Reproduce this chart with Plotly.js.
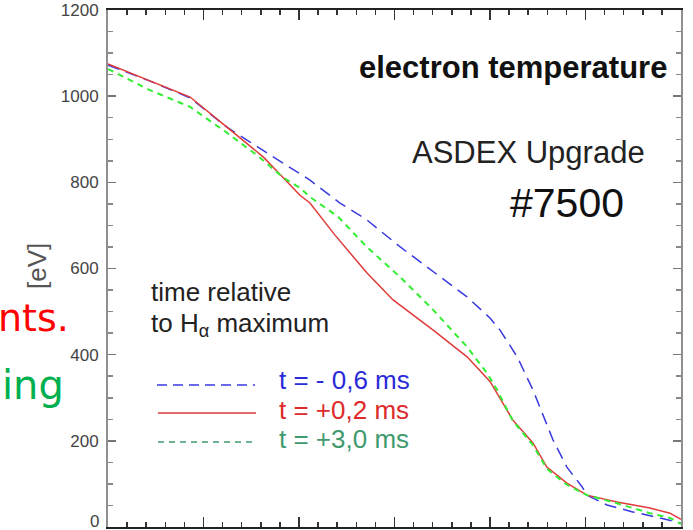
<!DOCTYPE html>
<html>
<head>
<meta charset="utf-8">
<script src="https://cdn.plot.ly/plotly-3.0.1.min.js"></script>
<style>html,body{margin:0;padding:0;background:#fff;}#chart{width:693px;height:530px;}</style>
</head>
<body>
<div id="chart"></div>
<script>
// normalized radius (0 .. 1.2, separatrix at 1.0) and electron temperature [eV]
var xBlue  = [0, 0.088, 0.172, 0.249, 0.291, 0.366, 0.423, 0.486, 0.542, 0.612, 0.681, 0.752, 0.800, 0.821, 0.857, 0.890, 0.932, 0.961, 0.993, 1.003, 1.045, 1.099, 1.156, 1.200];
var tBlue  = [1072, 1035, 996, 928, 898, 845, 805, 752, 713, 650, 592, 534, 485, 457, 395, 318, 202, 139, 93, 74, 51, 35, 21, 9];
var xRed   = [0, 0.088, 0.172, 0.249, 0.325, 0.366, 0.402, 0.423, 0.475, 0.542, 0.597, 0.681, 0.752, 0.800, 0.821, 0.848, 0.890, 0.919, 0.961, 1.003, 1.066, 1.135, 1.177, 1.200];
var tRed   = [1075, 1035, 998, 928, 859, 812, 770, 752, 678, 590, 527, 457, 395, 338, 300, 248, 195, 139, 102, 74, 58, 44, 32, 18];
var xGreen = [0, 0.088, 0.172, 0.249, 0.312, 0.366, 0.402, 0.423, 0.482, 0.542, 0.612, 0.681, 0.752, 0.794, 0.815, 0.848, 0.890, 0.919, 0.961, 1.003, 1.066, 1.135, 1.177, 1.200];
var tGreen = [1063, 1014, 975, 915, 863, 812, 787, 766, 720, 650, 580, 504, 418, 357, 318, 246, 190, 135, 98, 74, 55, 32, 21, 7];

var seriesNames = ['t = - 0,6 ms', 't = +0,2 ms', 't = +3,0 ms'];
var yTicks = [0, 200, 400, 600, 800, 1000, 1200];

var traces = [
  {x: xBlue, y: tBlue, mode: 'lines', name: seriesNames[0],
   line: {color: '#3a3ae0', width: 1.5, dash: '12px,7px'}},
  {x: xRed, y: tRed, mode: 'lines', name: seriesNames[1],
   line: {color: '#e03a3a', width: 1.5}},
  {x: xGreen, y: tGreen, mode: 'lines', name: seriesNames[2],
   line: {color: '#33ee33', width: 2, dash: '6px,5px'}}
];

function px(x){ return (x - 108) / 573; }
function py(y){ return (527 - y) / 517; }

var F = 'Liberation Sans, Arial, Helvetica, sans-serif';
function note(text, x, y, xa, size, color, extra){
  var a = {text: text, xref: 'paper', yref: 'paper', x: px(x), y: py(y),
           xanchor: xa, yanchor: 'middle', showarrow: false,
           font: {size: size, color: color}};
  if (extra) for (var k in extra) a[k] = extra[k];
  return a;
}
var VF = 'DejaVu Sans, Verdana, sans-serif';

var layout = {
  width: 693, height: 530,
  margin: {l: 108, r: 12, t: 10, b: 3},
  paper_bgcolor: '#fff', plot_bgcolor: '#fff',
  showlegend: false,
  font: {family: F, color: '#222'},
  xaxis: {range: [0, 1.2], showgrid: false, zeroline: false, showticklabels: false,
          showline: true, linecolor: '#222', linewidth: 2, mirror: 'ticks',
          ticks: 'inside', ticklen: 10, tickwidth: 1.5, tickcolor: '#333', dtick: 0.2, tick0: 0,
          minor: {dtick: 0.04, ticks: 'inside', ticklen: 5, tickwidth: 1.5, tickcolor: '#333'}},
  yaxis: {range: [0, 1200], showgrid: false, zeroline: false,
          showline: true, linecolor: '#8f8f8f', linewidth: 2, mirror: 'ticks',
          ticks: 'inside', ticklen: 8, tickwidth: 1.5, tickcolor: '#777',
          tickvals: yTicks, ticktext: yTicks.map(function(v){ return v === 0 ? '' : String(v); }),
          tickfont: {family: F, size: 17, color: '#444'}, ticklabelstandoff: 4,
          minor: {dtick: 50, ticks: 'inside', ticklen: 5, tickwidth: 1.5, tickcolor: '#888'}},
  shapes: [
    {type: 'line', xref: 'paper', yref: 'paper', x0: px(157), x1: px(255), y0: py(385), y1: py(385),
     line: {color: '#3a3ae0', width: 1.5, dash: '10px,6px'}},
    {type: 'line', xref: 'paper', yref: 'paper', x0: px(158), x1: px(256), y0: py(413), y1: py(413),
     line: {color: '#e03a3a', width: 1.5}},
    {type: 'line', xref: 'paper', yref: 'paper', x0: px(158), x1: px(256), y0: py(442), y1: py(442),
     line: {color: '#3f9a6e', width: 1.5, dash: '6px,5px'}}
  ],
  annotations: [
    note('0', 101, 521, 'right', 17, '#444'),
    note('[eV]', 37, 266, 'center', 26, '#555', {textangle: -90}),
    note('<b>electron temperature</b>', 669, 68, 'right', 31, '#111'),
    note('ASDEX Upgrade', 528, 152, 'center', 31, '#222'),
    note('#7500', 567, 203, 'center', 41, '#111'),
    note('time relative', 149, 292, 'left', 26, '#222'),
    note('to H<sub>α</sub> maximum', 149, 324, 'left', 26, '#222'),
    note(seriesNames[0], 277, 380, 'left', 26, '#2a2ad8'),
    note(seriesNames[1], 277, 410, 'left', 26, '#dd2a2a'),
    note(seriesNames[2], 277, 439, 'left', 26, '#3f9a6e'),
    note('nts.', 71, 318, 'right', 38, '#ff0000', {font: {family: VF, size: 38, color: '#ff0000'}}),
    note('ing', 66, 385, 'right', 40, '#00b050', {font: {family: VF, size: 40, color: '#00b050'}})
  ]
};

Plotly.newPlot('chart', traces, layout, {staticPlot: true, displayModeBar: false});
</script>
</body>
</html>
